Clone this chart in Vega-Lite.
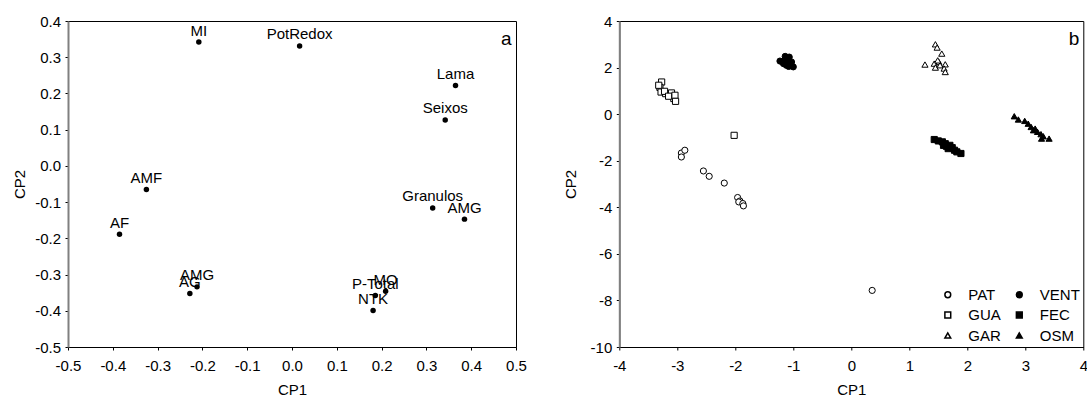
{
  "$schema": "https://vega.github.io/schema/vega-lite/v6.json",
  "padding": {"left": 11, "top": 13, "right": 0, "bottom": 0},
  "background": "white",
  "config": {
    "font": "Liberation Sans",
    "view": {"stroke": "black", "strokeWidth": 1},
    "axis": {
      "grid": false,
      "labelFont": "Liberation Sans",
      "titleFont": "Liberation Sans",
      "labelFontSize": 15,
      "titleFontSize": 15,
      "titleFontWeight": "normal",
      "labelColor": "black",
      "titleColor": "black",
      "tickColor": "black",
      "tickSize": 3,
      "tickCount": 20,
      "labelOverlap": false,
      "labelBound": false,
      "labelFlush": false
    },
    "axisX": {"domainColor": "black", "domainWidth": 1, "labelPadding": 8.5, "titlePadding": 9},
    "axisY": {"domainColor": "#808080", "domainWidth": 2, "labelPadding": 4.5, "minExtent": 33, "maxExtent": 33, "titlePadding": 8}
  },
  "datasets": {
    "loadings": [
      {"variavel": "MI", "cp1": -0.208, "cp2": 0.342},
      {"variavel": "PotRedox", "cp1": 0.017, "cp2": 0.331},
      {"variavel": "Lama", "cp1": 0.365, "cp2": 0.222},
      {"variavel": "Seixos", "cp1": 0.342, "cp2": 0.127},
      {"variavel": "AMF", "cp1": -0.325, "cp2": -0.065},
      {"variavel": "AF", "cp1": -0.385, "cp2": -0.189},
      {"variavel": "Granulos", "cp1": 0.314, "cp2": -0.116},
      {"variavel": "AMG", "cp1": 0.385, "cp2": -0.147},
      {"variavel": "AG", "cp1": -0.228, "cp2": -0.352},
      {"variavel": "AMG", "cp1": -0.212, "cp2": -0.334},
      {"variavel": "MO", "cp1": 0.209, "cp2": -0.346},
      {"variavel": "P-Total", "cp1": 0.186, "cp2": -0.358},
      {"variavel": "NTK", "cp1": 0.181, "cp2": -0.399}
    ],
    "scores": [
      {"grupo": "PAT", "cp1": -2.93, "cp2": -1.67},
      {"grupo": "PAT", "cp1": -2.87, "cp2": -1.55},
      {"grupo": "PAT", "cp1": -2.93, "cp2": -1.84},
      {"grupo": "PAT", "cp1": -2.55, "cp2": -2.44},
      {"grupo": "PAT", "cp1": -2.45, "cp2": -2.67},
      {"grupo": "PAT", "cp1": -2.19, "cp2": -2.96},
      {"grupo": "PAT", "cp1": -1.96, "cp2": -3.58},
      {"grupo": "PAT", "cp1": -1.92, "cp2": -3.73},
      {"grupo": "PAT", "cp1": -1.94, "cp2": -3.77},
      {"grupo": "PAT", "cp1": -1.87, "cp2": -3.84},
      {"grupo": "PAT", "cp1": -1.86, "cp2": -3.94},
      {"grupo": "PAT", "cp1": 0.36, "cp2": -7.57},
      {"grupo": "GUA", "cp1": -3.27, "cp2": 1.38},
      {"grupo": "GUA", "cp1": -3.30, "cp2": 1.15},
      {"grupo": "GUA", "cp1": -3.28, "cp2": 0.95},
      {"grupo": "GUA", "cp1": -3.20, "cp2": 0.88},
      {"grupo": "GUA", "cp1": -3.10, "cp2": 0.91},
      {"grupo": "GUA", "cp1": -3.06, "cp2": 0.67},
      {"grupo": "GUA", "cp1": -3.32, "cp2": 1.24},
      {"grupo": "GUA", "cp1": -3.22, "cp2": 0.98},
      {"grupo": "GUA", "cp1": -3.15, "cp2": 0.77},
      {"grupo": "GUA", "cp1": -3.04, "cp2": 0.81},
      {"grupo": "GUA", "cp1": -3.03, "cp2": 0.55},
      {"grupo": "GUA", "cp1": -2.02, "cp2": -0.91},
      {"grupo": "GAR", "cp1": 1.45, "cp2": 3.00},
      {"grupo": "GAR", "cp1": 1.48, "cp2": 2.86},
      {"grupo": "GAR", "cp1": 1.56, "cp2": 2.60},
      {"grupo": "GAR", "cp1": 1.27, "cp2": 2.13},
      {"grupo": "GAR", "cp1": 1.43, "cp2": 2.17},
      {"grupo": "GAR", "cp1": 1.45, "cp2": 2.00},
      {"grupo": "GAR", "cp1": 1.51, "cp2": 2.24},
      {"grupo": "GAR", "cp1": 1.53, "cp2": 2.10},
      {"grupo": "GAR", "cp1": 1.62, "cp2": 2.14},
      {"grupo": "GAR", "cp1": 1.60, "cp2": 1.96},
      {"grupo": "GAR", "cp1": 1.62, "cp2": 1.81},
      {"grupo": "GAR", "cp1": 1.49, "cp2": 2.31},
      {"grupo": "VENT", "cp1": -1.23, "cp2": 2.28},
      {"grupo": "VENT", "cp1": -1.14, "cp2": 2.48},
      {"grupo": "VENT", "cp1": -1.07, "cp2": 2.45},
      {"grupo": "VENT", "cp1": -1.06, "cp2": 2.17},
      {"grupo": "VENT", "cp1": -1.00, "cp2": 2.03},
      {"grupo": "VENT", "cp1": -1.17, "cp2": 2.17},
      {"grupo": "VENT", "cp1": -1.12, "cp2": 2.10},
      {"grupo": "VENT", "cp1": -1.03, "cp2": 2.24},
      {"grupo": "VENT", "cp1": -1.10, "cp2": 2.35},
      {"grupo": "VENT", "cp1": -1.15, "cp2": 2.30},
      {"grupo": "VENT", "cp1": -1.08, "cp2": 2.05},
      {"grupo": "FEC", "cp1": 1.43, "cp2": -1.09},
      {"grupo": "FEC", "cp1": 1.50, "cp2": -1.15},
      {"grupo": "FEC", "cp1": 1.57, "cp2": -1.19},
      {"grupo": "FEC", "cp1": 1.62, "cp2": -1.27},
      {"grupo": "FEC", "cp1": 1.64, "cp2": -1.38},
      {"grupo": "FEC", "cp1": 1.70, "cp2": -1.34},
      {"grupo": "FEC", "cp1": 1.74, "cp2": -1.44},
      {"grupo": "FEC", "cp1": 1.67, "cp2": -1.48},
      {"grupo": "FEC", "cp1": 1.82, "cp2": -1.62},
      {"grupo": "FEC", "cp1": 1.89, "cp2": -1.69},
      {"grupo": "FEC", "cp1": 1.59, "cp2": -1.34},
      {"grupo": "FEC", "cp1": 1.78, "cp2": -1.55},
      {"grupo": "OSM", "cp1": 2.81, "cp2": -0.09},
      {"grupo": "OSM", "cp1": 2.88, "cp2": -0.23},
      {"grupo": "OSM", "cp1": 2.99, "cp2": -0.29},
      {"grupo": "OSM", "cp1": 3.05, "cp2": -0.41},
      {"grupo": "OSM", "cp1": 3.10, "cp2": -0.55},
      {"grupo": "OSM", "cp1": 3.14, "cp2": -0.69},
      {"grupo": "OSM", "cp1": 3.21, "cp2": -0.76},
      {"grupo": "OSM", "cp1": 3.27, "cp2": -0.86},
      {"grupo": "OSM", "cp1": 3.31, "cp2": -0.95},
      {"grupo": "OSM", "cp1": 3.28, "cp2": -1.05},
      {"grupo": "OSM", "cp1": 3.41, "cp2": -1.05},
      {"grupo": "OSM", "cp1": 3.17, "cp2": -0.62}
    ],
    "letraA": [{"letra": "a", "cp1": 0.49, "cp2": 0.335}],
    "letraB": [{"letra": "b", "cp1": 3.93, "cp2": 2.97}]
  },
  "bounds": "flush",
  "spacing": 103.3,
  "resolve": {"legend": {"shape": "independent", "fill": "independent"}},
  "hconcat": [
    {
      "width": 448,
      "height": 326,
      "layer": [
        {
          "data": {"name": "loadings"},
          "mark": {"type": "point", "shape": "circle", "filled": true, "color": "black", "size": 30, "opacity": 1},
          "encoding": {
            "x": {"field": "cp1", "type": "quantitative", "title": "CP1",
              "scale": {"domain": [-0.5, 0.5], "nice": false, "zero": false},
              "axis": {"values": [-0.5, -0.4, -0.3, -0.2, -0.1, 0, 0.1, 0.2, 0.3, 0.4, 0.5], "labelOverlap": false, "tickCount": 20,
                "labelExpr": "replace(format(datum.value, '.1f'), '\u2212', '-')"}},
            "y": {"field": "cp2", "type": "quantitative", "title": "CP2",
              "scale": {"domain": [-0.5, 0.4], "nice": false, "zero": false},
              "axis": {"values": [-0.5, -0.4, -0.3, -0.2, -0.1, 0, 0.1, 0.2, 0.3, 0.4], "labelOverlap": false, "tickCount": 20,
                "labelExpr": "replace(format(datum.value, '.1f'), '\u2212', '-')"}}
          }
        },
        {
          "data": {"name": "loadings"},
          "mark": {"type": "text", "fontSize": 15, "align": "center", "baseline": "alphabetic", "dy": -6.5, "color": "black"},
          "encoding": {
            "x": {"field": "cp1", "type": "quantitative"},
            "y": {"field": "cp2", "type": "quantitative"},
            "text": {"field": "variavel"}
          }
        },
        {
          "data": {"name": "letraA"},
          "mark": {"type": "text", "fontSize": 19, "align": "right", "baseline": "alphabetic", "color": "black"},
          "encoding": {
            "x": {"field": "cp1", "type": "quantitative"},
            "y": {"field": "cp2", "type": "quantitative"},
            "text": {"field": "letra"}
          }
        }
      ]
    },
    {
      "width": 464,
      "height": 326,
      "layer": [
        {
          "data": {"name": "scores"},
          "mark": {"type": "point", "strokeWidth": 1, "size": 38, "opacity": 1, "fillOpacity": 1},
          "encoding": {
            "x": {"field": "cp1", "type": "quantitative", "title": "CP1",
              "scale": {"domain": [-4, 4], "nice": false, "zero": false},
              "axis": {"values": [-4, -3, -2, -1, 0, 1, 2, 3, 4], "labelOverlap": false, "tickCount": 20,
                "labelExpr": "replace(format(datum.value, 'd'), '\u2212', '-')"}},
            "y": {"field": "cp2", "type": "quantitative", "title": "CP2",
              "scale": {"domain": [-10, 4], "nice": false, "zero": false},
              "axis": {"values": [-10, -8, -6, -4, -2, 0, 2, 4], "labelOverlap": false, "tickCount": 20,
                "labelExpr": "replace(format(datum.value, 'd'), '\u2212', '-')"}},
            "stroke": {"value": "black"},
            "shape": {"field": "grupo", "type": "nominal",
              "scale": {"domain": ["PAT", "GUA", "GAR", "VENT", "FEC", "OSM"],
                "range": ["circle", "square", "triangle-up", "circle", "square", "triangle-up"]},
              "legend": {"title": null, "orient": "none", "legendX": 321, "legendY": 266, "columns": 2, "direction": "vertical",
                "columnPadding": 10.5, "rowPadding": 4.5, "labelFontSize": 15, "labelFont": "Liberation Sans",
                "labelColor": "black", "labelOffset": 13, "symbolSize": 34, "padding": 0,
                "encode": {"symbols": {"update": {"stroke": {"value": "black"}, "strokeWidth": {"value": 1}}}}}},
            "fill": {"field": "grupo", "type": "nominal",
              "scale": {"domain": ["PAT", "GUA", "GAR", "VENT", "FEC", "OSM"],
                "range": ["white", "white", "white", "black", "black", "black"]},
              "legend": {"title": null, "orient": "none", "legendX": 321, "legendY": 266, "columns": 2, "direction": "vertical",
                "columnPadding": 10.5, "rowPadding": 4.5, "labelFontSize": 15, "labelFont": "Liberation Sans",
                "labelColor": "black", "labelOffset": 13, "symbolSize": 34, "padding": 0,
                "encode": {"symbols": {"update": {"stroke": {"value": "black"}, "strokeWidth": {"value": 1}}}}}}
          }
        },
        {
          "data": {"name": "letraB"},
          "mark": {"type": "text", "fontSize": 19, "align": "right", "baseline": "alphabetic", "color": "black"},
          "encoding": {
            "x": {"field": "cp1", "type": "quantitative"},
            "y": {"field": "cp2", "type": "quantitative"},
            "text": {"field": "letra"}
          }
        }
      ]
    }
  ]
}
